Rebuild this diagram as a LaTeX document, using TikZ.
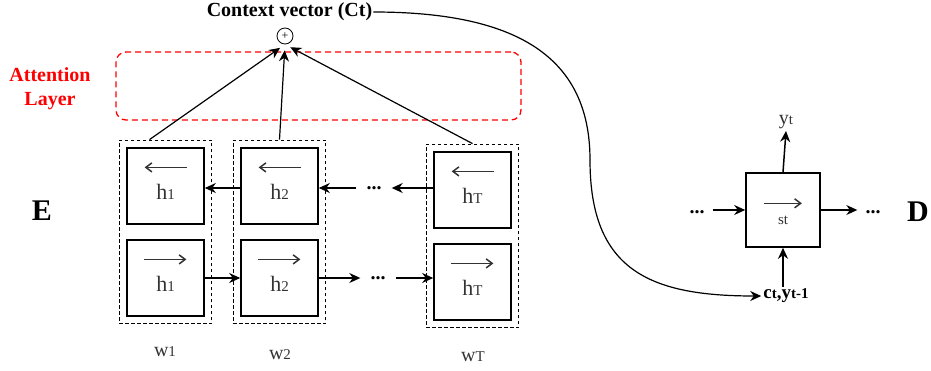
\documentclass[tikz,border=0pt]{standalone}
\usepackage{fontspec}
\setmainfont{Liberation Serif}
\usetikzlibrary{arrows.meta,positioning,fit,calc}
\definecolor{attnred}{RGB}{255,0,0}
\definecolor{txtgray}{RGB}{51,51,51}
\newcommand{\idx}[1]{{\fontsize{15}{15}\selectfont #1}}
\newcommand{\cellArrow}[2]{\tikz[baseline=-2pt]\draw[line width=1.5pt, #2] (0pt,0pt) -- (#1,0pt);}
\newcommand{\cellLabel}[2]{\begin{tabular}{@{}c@{}}#1\\[6pt]#2\rule[-20pt]{0pt}{0pt}\end{tabular}}

\begin{document}
\begin{tikzpicture}[x=1pt, y=-1pt,
    hbox/.style={rectangle, draw, line width=1.6pt, minimum width=77pt, minimum height=76pt,
                 inner sep=0pt, text=txtgray, font=\fontsize{22}{24}\selectfont},
    colbox/.style={rectangle, draw, dash pattern=on 3.5pt off 2.5pt, line width=1.2pt, inner sep=7pt},
    attnbox/.style={rectangle, draw=attnred, dash pattern=on 6pt off 4pt, line width=1.3pt,
                    rounded corners=10pt, minimum width=405pt, minimum height=68pt},
    wlbl/.style={text=txtgray, font=\fontsize{20}{22}\selectfont},
    dotnode/.style={font=\bfseries\fontsize{20}{22}\selectfont, inner xsep=10pt, inner ysep=1pt},
    bigletter/.style={font=\bfseries\fontsize{30}{32}\selectfont},
    flow/.style={line width=1.5pt, -{Stealth[length=11pt,width=10pt]}},
    >=Stealth
  ]
    \useasboundingbox (0,0) rectangle (931,370);

    % --- Encoder cells ---
    \node[hbox] (h1t) at (165.5,186) {\cellLabel{\cellArrow{42pt}{{Straight Barb[length=6pt,width=9pt]}-}}{h\idx{1}}};
    \node[hbox] (h1b) at (165.5,278) {\cellLabel{\cellArrow{42pt}{-{Straight Barb[length=6pt,width=9pt]}}}{h\idx{1}}};
    \node[hbox] (h2t) at (279.5,186) {\cellLabel{\cellArrow{42pt}{{Straight Barb[length=6pt,width=9pt]}-}}{h\idx{2}}};
    \node[hbox] (h2b) at (279.5,278) {\cellLabel{\cellArrow{42pt}{-{Straight Barb[length=6pt,width=9pt]}}}{h\idx{2}}};
    \node[hbox] (hTt) at (472.5,190) {\cellLabel{\cellArrow{42pt}{{Straight Barb[length=6pt,width=9pt]}-}}{h\idx{T}}};
    \node[hbox] (hTb) at (472.5,282) {\cellLabel{\cellArrow{42pt}{-{Straight Barb[length=6pt,width=9pt]}}}{h\idx{T}}};

    % columns
    \node[colbox, fit=(h1t)(h1b)] (col1) {};
    \node[colbox, fit=(h2t)(h2b)] (col2) {};
    \node[colbox, fit=(hTt)(hTb)] (colT) {};

    % words
    \node[wlbl] (w1) at (165,352) {w\idx{1}};
    \node[wlbl] (w2) at (280,355) {w\idx{2}};
    \node[wlbl] (wT) at (473,357) {w\idx{T}};

    % --- Recurrent arrows ---
    \node[dotnode] (dotsT) at (374,188) {...};
    \node[dotnode] (dotsB) at (378,278) {...};

    \draw[flow] (h2t.west |- dotsT) -- (h1t.east |- dotsT);
    \draw[flow] (dotsT.west) -- (h2t.east |- dotsT);
    \draw[flow] (hTt.west |- dotsT) -- (dotsT.east);

    \draw[flow] (h1b.east |- dotsB) -- (h2b.west |- dotsB);
    \draw[flow] (h2b.east |- dotsB) -- (dotsB.west);
    \draw[flow] (dotsB.east) -- (hTb.west |- dotsB);

    % --- Attention ---
    \node[attnbox] (attn) at (318.5,86) {};
    \node[font=\bfseries\fontsize{20}{24}\selectfont, text=attnred, align=center] (attnlbl) at (50,89) {Attention\\Layer};
    \node[circle, draw, line width=0.8pt, minimum size=16pt, inner sep=0pt,
          font=\fontsize{12}{12}\selectfont] (sum) at (285,36) {+};
    \node[font=\bfseries\fontsize{20}{22}\selectfont, inner sep=1pt] (ctx) at (289.5,12) {Context vector (Ct)};

    \draw[flow, line width=1.2pt, shorten >=6pt] ([xshift=-16pt]col1.north) -- (sum.south);
    \draw[flow, line width=1.2pt, shorten >=6pt] (col2.north) -- (sum.south);
    \draw[flow, line width=1.2pt, shorten >=6pt] (colT.north) -- (sum.south);

    % --- Decoder ---
    \node[hbox, minimum width=74pt, minimum height=74pt] (st) at (783,210)
      {\begin{tabular}{@{}c@{}}\cellArrow{38pt}{-{Straight Barb[length=6pt,width=9pt]}}\\[-5pt]\idx{st}\rule[-4pt]{0pt}{0pt}\end{tabular}};
    \node[font=\fontsize{20}{22}\selectfont, text=txtgray, inner sep=2pt] (yt) at (786,122) {y\idx{t}};
    \node[font=\bfseries\fontsize{19}{21}\selectfont, inner sep=2pt] (ctin) at (786,296)
      {c{\fontsize{15}{15}\selectfont t},y{\fontsize{15}{15}\selectfont t-1}};
    \node[dotnode, inner xsep=8pt] (dotsL) at (697,212) {...};
    \node[dotnode, inner xsep=8pt] (dotsR) at (873,212) {...};

    \draw[flow] (st.north) -- (yt.south);
    \draw[flow] (ctin.north -| st) -- (st.south);
    \draw[flow] (dotsL.east |- st.west) -- (st.west);
    \draw[flow] (st.east) -- (dotsR.west |- st.east);

    \coordinate (bend) at (590,160);
    \draw[flow, line width=1.2pt] (ctx.east) .. controls +(148,0) and +(0,-100) .. (bend)
      .. controls +(0,110) and +(-112,0) .. (ctin.west);

    \node[bigletter] (enc) at (42,211) {E};
    \node[bigletter] (dec) at (918,212) {D};
  \end{tikzpicture}
\end{document}
